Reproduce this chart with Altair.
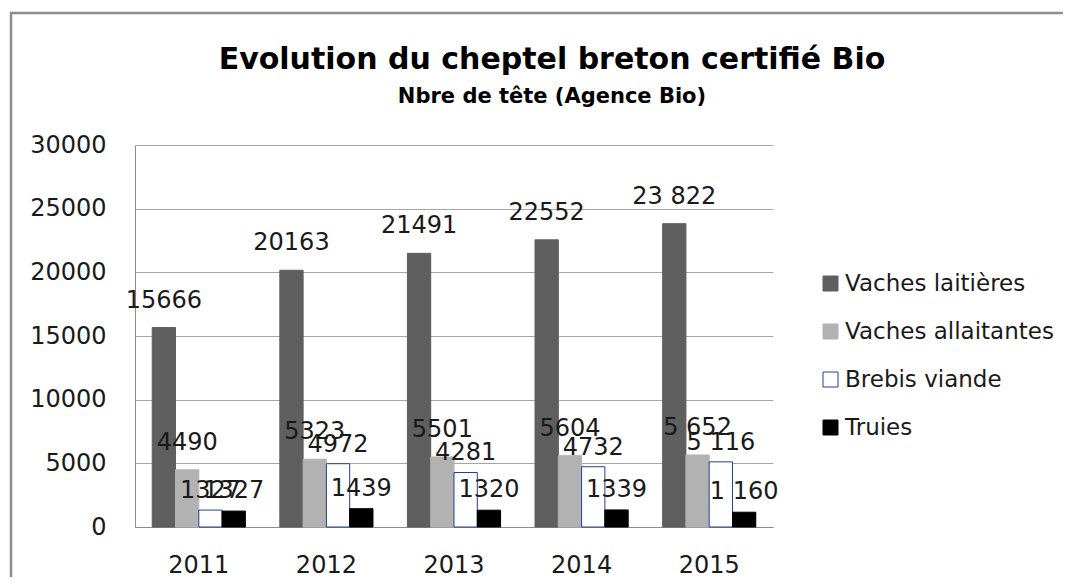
import altair as alt
import pandas as pd

years = ["2011", "2012", "2013", "2014", "2015"]
series = ["Vaches laitières", "Vaches allaitantes", "Brebis viande", "Truies"]

laitieres = [15666, 20163, 21491, 22552, 23822]
allaitantes = [4490, 5323, 5501, 5604, 5652]
brebis = [1327, 4972, 4281, 4732, 5116]
truies = [1250, 1439, 1320, 1339, 1160]

lab_laitieres = ["15666", "20163", "21491", "22552", "23 822"]
lab_allaitantes = ["4490", "5323", "5501", "5604", "5 652"]
lab_brebis = ["1327", "4972", "4281", "4732", "5 116"]
lab_truies = ["1327", "1439", "1320", "1339", "1 160"]

fills = ["#5f5f5f", "#b2b2b2", "#ffffff", "#000000"]
strokes = ["#5f5f5f", "#b2b2b2", "#23408e", "#000000"]
label_dy = [-20, -20, -12, -13]

rows = []
for s, vals, labs in zip(series,
                         [laitieres, allaitantes, brebis, truies],
                         [lab_laitieres, lab_allaitantes, lab_brebis, lab_truies]):
    for yr, v, l in zip(years, vals, labs):
        rows.append({"year": yr, "series": s, "value": v, "label": l})
df = pd.DataFrame(rows)

x_enc = alt.X("year:N", sort=years,
              scale=alt.Scale(paddingInner=0.27, paddingOuter=0.135),
              axis=alt.Axis(title=None, labelAngle=0, grid=False, ticks=False,
                            labelPadding=26, domainColor="#8c8c8c"))
xoff_enc = alt.XOffset("series:N", sort=series,
                       scale=alt.Scale(domain=series, paddingInner=0, paddingOuter=0))
y_enc = alt.Y("value:Q",
              scale=alt.Scale(domain=[0, 30000], nice=False),
              axis=alt.Axis(title=None, values=[0, 5000, 10000, 15000, 20000, 25000, 30000],
                            format="d", grid=True, ticks=False, labelPadding=29,
                            gridColor="#a6a6a6", domainColor="#8c8c8c"))

base = alt.Chart(df)

bars = base.mark_bar(strokeWidth=1).encode(
    x=x_enc,
    xOffset=xoff_enc,
    y=y_enc,
    fill=alt.Fill("series:N", scale=alt.Scale(domain=series, range=fills),
                  legend=alt.Legend(title=None)),
    stroke=alt.Stroke("series:N", scale=alt.Scale(domain=series, range=strokes),
                      legend=alt.Legend(title=None)),
)

texts = []
for s, d in zip(series, label_dy):
    texts.append(
        base.transform_filter(alt.datum.series == s).mark_text(
            font="DejaVu Sans", fontSize=24, dy=d, baseline="alphabetic",
            align="center", color="#1a1a1a"
        ).encode(x=x_enc, xOffset=xoff_enc, y=alt.Y("value:Q"), text="label:N")
    )

border = alt.Chart(pd.DataFrame({"k": [0]})).mark_rect(
    fillOpacity=0, stroke="#8c8c8c", strokeWidth=2.5
).encode(x=alt.value(-124), x2=alt.value(1000), y=alt.value(-132), y2=alt.value(600))

chart = alt.layer(border, bars, *texts).properties(
    width=638, height=382,
    autosize="none",
    padding={"left": 127, "top": 137, "right": 290, "bottom": 50},
    title=alt.TitleParams(
        text="Evolution du cheptel breton certifié Bio",
        subtitle="Nbre de tête (Agence Bio)",
        font="DejaVu Sans", fontSize=30, fontWeight="bold", color="#000000",
        subtitleFont="DejaVu Sans", subtitleFontSize=21, subtitleFontWeight="bold",
        subtitleColor="#000000", subtitlePadding=11,
        anchor="middle", frame="group", dx=98, offset=-95,
    ),
).configure_view(stroke=None).configure_axis(
    labelFont="DejaVu Sans", labelFontSize=24, labelColor="#1a1a1a",
).configure_legend(
    orient="none", legendX=684, legendY=127,
    symbolType="square", symbolSize=225, symbolStrokeWidth=1,
    labelFont="DejaVu Sans", labelFontSize=23, labelColor="#1a1a1a",
    labelOffset=3, rowPadding=24, labelLimit=400,
)

chart.save("out.html", embed_options={"renderer": "svg", "actions": False})
